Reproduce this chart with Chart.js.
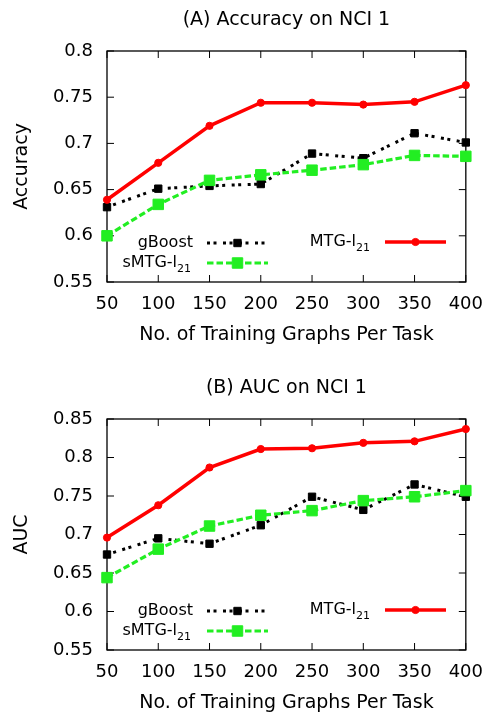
<!DOCTYPE html>
<html>
<head>
<meta charset="utf-8">
<title>Accuracy and AUC on NCI 1</title>
<script src="https://cdn.jsdelivr.net/npm/chart.js@4.4.1/dist/chart.umd.min.js"></script>
<style>
    body { margin: 0; background: #fff; }
    .panel { position: relative; width: 495px; }
    #panelA { height: 368px; }
    #panelB { height: 349px; }
</style>
</head>
<body>
<div class="panel" id="panelA"><canvas id="chartA"></canvas></div>
<div class="panel" id="panelB"><canvas id="chartB"></canvas></div>
<script>
// x values: number of training graphs per task
const trainingGraphs = [50, 100, 150, 200, 250, 300, 350, 400];

// (A) Accuracy on NCI 1
const accGBoost = [0.631, 0.651, 0.654, 0.656, 0.689, 0.684, 0.711, 0.701];
const accSMTG = [0.600, 0.634, 0.660, 0.666, 0.671, 0.677, 0.687, 0.686];
const accMTG = [0.639, 0.679, 0.719, 0.744, 0.744, 0.742, 0.745, 0.763];

// (B) AUC on NCI 1
const aucGBoost = [0.674, 0.695, 0.688, 0.712, 0.749, 0.732, 0.765, 0.749];
const aucSMTG = [0.644, 0.681, 0.711, 0.725, 0.731, 0.744, 0.749, 0.757];
const aucMTG = [0.696, 0.738, 0.787, 0.811, 0.812, 0.819, 0.821, 0.837];

// tick labels
const xTicks = [50, 100, 150, 200, 250, 300, 350, 400];
const accTicks = [0.55, 0.6, 0.65, 0.7, 0.75, 0.8];
const aucTicks = [0.55, 0.6, 0.65, 0.7, 0.75, 0.8, 0.85];

const FONT = 'DejaVu Sans';
const colors = {
    gBoost: '#000000',
    smtg: '#22ee22',
    mtg: '#ff0000'
};

Chart.defaults.font.family = FONT;
Chart.defaults.color = '#000';

const toPoints = ys => ys.map((y, i) => ({ x: trainingGraphs[i], y: y }));

// border box with inward ticks on all four sides (gnuplot style)
const framePlugin = {
    id: 'frame',
    beforeDatasetsDraw(chart) {
        const { ctx, chartArea: a, scales } = chart;
        const len = 7;
        ctx.save();
        ctx.strokeStyle = '#000';
        ctx.lineWidth = 1.3;
        ctx.setLineDash([]);
        ctx.strokeRect(a.left, a.top, a.right - a.left, a.bottom - a.top);
        ctx.lineWidth = 1;
        ctx.beginPath();
        scales.x.ticks.forEach(t => {
            const px = scales.x.getPixelForValue(t.value);
            ctx.moveTo(px, a.bottom); ctx.lineTo(px, a.bottom - len);
            ctx.moveTo(px, a.top); ctx.lineTo(px, a.top + len);
        });
        scales.y.ticks.forEach(t => {
            const py = scales.y.getPixelForValue(t.value);
            ctx.moveTo(a.left, py); ctx.lineTo(a.left + len, py);
            ctx.moveTo(a.right, py); ctx.lineTo(a.right - len, py);
        });
        ctx.stroke();
        ctx.restore();
    }
};

// key inside the plot, two columns, with subscripted labels
const keyPlugin = {
    id: 'key',
    afterDraw(chart) {
        const { ctx, chartArea: a } = chart;
        const ds = chart.data.datasets;
        const rows = [
            { d: ds[2], main: 'gBoost', sub: '', textRight: a.left + 86, x0: a.left + 100, x1: a.left + 161, y: a.bottom - 39 },
            { d: ds[1], main: 'sMTG-l', sub: '21', textRight: a.left + 84, x0: a.left + 100, x1: a.left + 161, y: a.bottom - 19 },
            { d: ds[0], main: 'MTG-l', sub: '21', textRight: a.left + 263, x0: a.left + 278, x1: a.left + 339, y: a.bottom - 40 }
        ];
        ctx.save();
        rows.forEach(r => {
            // label
            ctx.fillStyle = '#000';
            ctx.textBaseline = 'middle';
            ctx.textAlign = 'left';
            ctx.font = '16px "' + FONT + '"';
            const wMain = ctx.measureText(r.main).width;
            ctx.font = '11px "' + FONT + '"';
            const wSub = r.sub ? ctx.measureText(r.sub).width : 0;
            const start = r.textRight - wMain - wSub;
            ctx.font = '16px "' + FONT + '"';
            ctx.fillText(r.main, start, r.y);
            if (r.sub) {
                ctx.font = '11px "' + FONT + '"';
                ctx.fillText(r.sub, start + wMain, r.y + 6);
            }
            // sample line
            ctx.strokeStyle = r.d.borderColor;
            ctx.lineWidth = r.d.borderWidth;
            ctx.setLineDash(r.d.borderDash || []);
            ctx.beginPath();
            ctx.moveTo(r.x0, r.y);
            ctx.lineTo(r.x1, r.y);
            ctx.stroke();
            // marker
            ctx.setLineDash([]);
            ctx.fillStyle = r.d.pointBackgroundColor;
            ctx.strokeStyle = r.d.pointBorderColor;
            ctx.lineWidth = 1;
            Chart.helpers.drawPoint(ctx, {
                pointStyle: r.d.pointStyle,
                radius: r.d.pointRadius,
                rotation: 0,
                borderWidth: 1
            }, (r.x0 + r.x1) / 2, r.y);
        });
        ctx.restore();
    }
};

function makePanel(canvasId, titleText, yTitle, yTicks, gBoost, smtg, mtg, height, xTitlePadBottom) {
    const ctx = document.getElementById(canvasId);
    return new Chart(ctx.getContext('2d'), {
        type: 'line',
        data: {
            datasets: [
                {
                    label: 'MTG-l21',
                    data: toPoints(mtg),
                    borderColor: colors.mtg,
                    backgroundColor: colors.mtg,
                    borderWidth: 3.5,
                    pointStyle: 'circle',
                    pointRadius: 3.6,
                    pointBackgroundColor: colors.mtg,
                    pointBorderColor: colors.mtg,
                    pointBorderWidth: 1,
                    tension: 0,
                    clip: false
                },
                {
                    label: 'sMTG-l21',
                    data: toPoints(smtg),
                    borderColor: colors.smtg,
                    backgroundColor: colors.smtg,
                    borderWidth: 3.2,
                    borderDash: [6.5, 3],
                    pointStyle: 'rect',
                    pointRadius: 7.4,
                    pointBackgroundColor: colors.smtg,
                    pointBorderColor: colors.smtg,
                    pointBorderWidth: 1,
                    tension: 0,
                    clip: false
                },
                {
                    label: 'gBoost',
                    data: toPoints(gBoost),
                    borderColor: colors.gBoost,
                    backgroundColor: colors.gBoost,
                    borderWidth: 3,
                    borderDash: [3, 3.5, 3, 6.5],
                    pointStyle: 'rect',
                    pointRadius: 5.2,
                    pointBackgroundColor: colors.gBoost,
                    pointBorderColor: colors.gBoost,
                    pointBorderWidth: 1,
                    tension: 0,
                    clip: false
                }
            ]
        },
        options: {
            responsive: true,
            maintainAspectRatio: false,
            animation: false,
            layout: {
                padding: { left: 0, right: 23, top: 0, bottom: 0 }
            },
            plugins: {
                legend: { display: false },
                tooltip: { enabled: false },
                title: {
                    display: true,
                    text: titleText,
                    fullSize: false,
                    color: '#000',
                    font: { size: 19, weight: 'normal' },
                    padding: { top: 8.6, bottom: 19.6 }
                }
            },
            scales: {
                x: {
                    type: 'linear',
                    min: xTicks[0],
                    max: xTicks[xTicks.length - 1],
                    afterBuildTicks: axis => { axis.ticks = xTicks.map(v => ({ value: v })); },
                    afterFit: axis => { axis.height = height - 282; },
                    grid: { display: false, drawTicks: false },
                    border: { display: false },
                    ticks: {
                        padding: 12,
                        font: { size: 18 },
                        color: '#000',
                        maxRotation: 0,
                        callback: v => String(v)
                    },
                    title: {
                        display: true,
                        text: 'No. of Training Graphs Per Task',
                        color: '#000',
                        font: { size: 19 },
                        padding: { top: 0, bottom: xTitlePadBottom }
                    }
                },
                y: {
                    min: yTicks[0],
                    max: yTicks[yTicks.length - 1],
                    afterBuildTicks: axis => { axis.ticks = yTicks.map(v => ({ value: v })); },
                    afterFit: axis => { axis.width = 107; },
                    grid: { display: false, drawTicks: false },
                    border: { display: false },
                    ticks: {
                        padding: 14,
                        font: { size: 18 },
                        color: '#000',
                        callback: v => String(Number(v.toFixed(2)))
                    },
                    title: {
                        display: true,
                        text: yTitle,
                        color: '#000',
                        font: { size: 19 },
                        padding: { top: 10.5, bottom: 0 }
                    }
                }
            }
        },
        plugins: [framePlugin, keyPlugin]
    });
}

makePanel('chartA', '(A) Accuracy on NCI 1', 'Accuracy', accTicks, accGBoost, accSMTG, accMTG, 368, 21.6);
makePanel('chartB', '(B) AUC on NCI 1', 'AUC', aucTicks, aucGBoost, aucSMTG, aucMTG, 349, 2.1);
</script>
</body>
</html>
